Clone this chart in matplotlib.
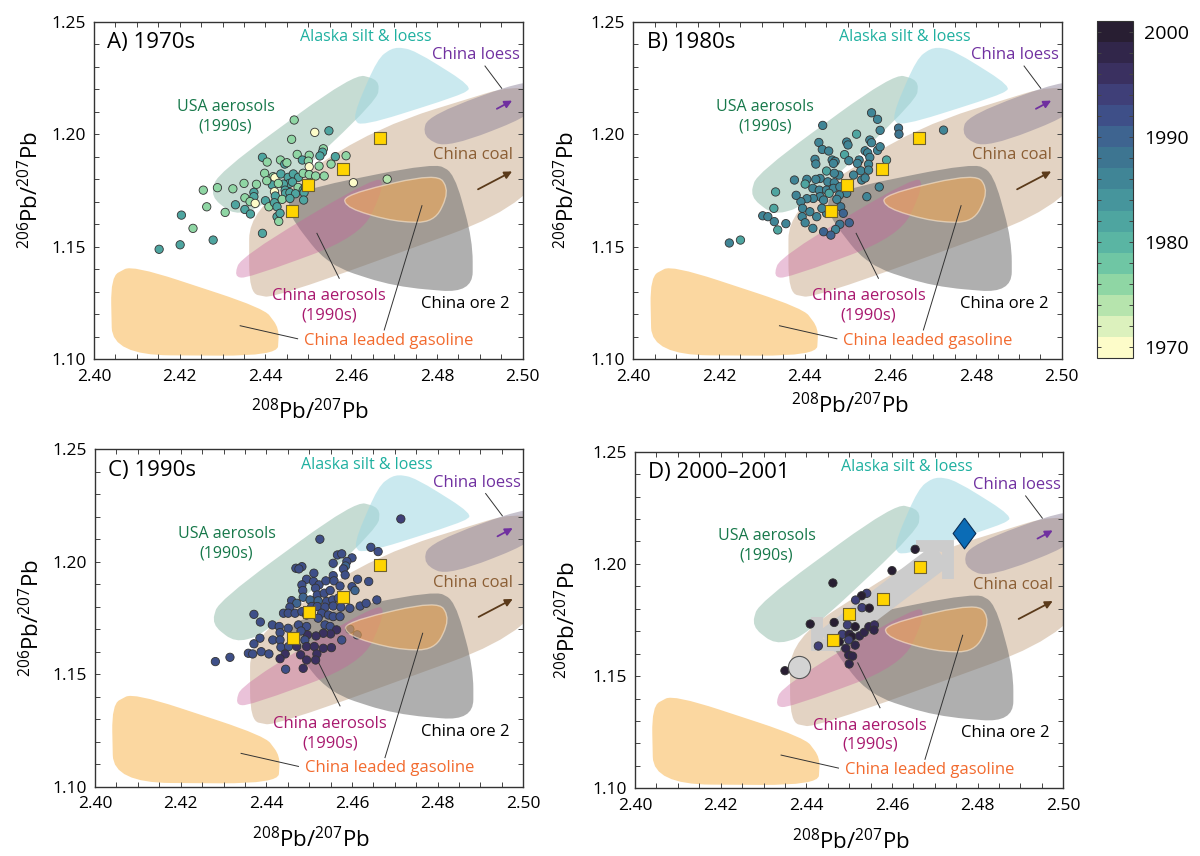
import numpy as np
import matplotlib
matplotlib.use("Agg")
import matplotlib.pyplot as plt
from matplotlib.path import Path
from matplotlib.patches import PathPatch
from matplotlib.colors import ListedColormap, BoundaryNorm
from matplotlib.ticker import MultipleLocator, FormatStrFormatter
import matplotlib.cm as cm

plt.rcParams['font.family'] = ['Open Sans', 'DejaVu Sans']
plt.rcParams['mathtext.fontset'] = 'custom'
plt.rcParams['mathtext.rm'] = 'Open Sans'
plt.rcParams['mathtext.default'] = 'regular'

# ---- aerosol samples: 208Pb/207Pb, 206Pb/207Pb, year ----
a_x = [2.4467, 2.4515, 2.4548, 2.4461, 2.4535, 2.4533, 2.4527, 2.4563, 2.4588, 2.4474,
       2.4502, 2.4393, 2.4404, 2.4435, 2.4445, 2.4450, 2.4486, 2.4500, 2.4502, 2.4525,
       2.4553, 2.4398, 2.4418, 2.4422, 2.4436, 2.4453, 2.4465, 2.4477, 2.4488, 2.4502,
       2.4517, 2.4537, 2.4456, 2.4463, 2.4476, 2.4442, 2.4416, 2.4430, 2.4403, 2.4379,
       2.4350, 2.4324, 2.4288, 2.4255, 2.4373, 2.4373, 2.4352, 2.4364, 2.4376, 2.4421,
       2.4423, 2.4446, 2.4447, 2.4457, 2.4470, 2.4488, 2.4490, 2.4493, 2.4400, 2.4408,
       2.4421, 2.4427, 2.4439, 2.4457, 2.4489, 2.4605, 2.4330, 2.4352, 2.4365, 2.4306,
       2.4263, 2.4204, 2.4231, 2.4278, 2.4201, 2.4152, 2.4393, 2.4427, 2.4431, 2.4434,
       2.4684]
a_y = [1.2063, 1.2008, 1.2015, 1.1977, 1.1935, 1.1920, 1.1903, 1.1900, 1.1904, 1.1910,
       1.1906, 1.1897, 1.1876, 1.1885, 1.1867, 1.1873, 1.1885, 1.1880, 1.1855, 1.1858,
       1.1867, 1.1826, 1.1811, 1.1806, 1.1823, 1.1808, 1.1823, 1.1808, 1.1826, 1.1820,
       1.1814, 1.1814, 1.1781, 1.1787, 1.1763, 1.1778, 1.1774, 1.1781, 1.1793, 1.1777,
       1.1781, 1.1757, 1.1762, 1.1751, 1.1741, 1.1722, 1.1717, 1.1700, 1.1692, 1.1744,
       1.1725, 1.1751, 1.1737, 1.1740, 1.1735, 1.1751, 1.1740, 1.1766, 1.1704, 1.1677,
       1.1695, 1.1677, 1.1710, 1.1714, 1.1707, 1.1784, 1.1686, 1.1665, 1.1645, 1.1652,
       1.1677, 1.1640, 1.1581, 1.1529, 1.1508, 1.1488, 1.1559, 1.1633, 1.1612, 1.1648,
       1.1800]
a_year = [1975, 1970, 1981, 1975, 1975, 1981, 1981, 1981, 1975, 1975,
          1975, 1981, 1975, 1975, 1981, 1975, 1981, 1975, 1970, 1975,
          1975, 1975, 1975, 1970, 1981, 1981, 1981, 1981, 1975, 1975,
          1975, 1975, 1981, 1981, 1975, 1981, 1981, 1975, 1975, 1975,
          1975, 1975, 1975, 1975, 1981, 1981, 1975, 1975, 1970, 1970,
          1981, 1981, 1981, 1981, 1981, 1981, 1981, 1981, 1981, 1975,
          1981, 1981, 1975, 1981, 1981, 1970, 1981, 1981, 1981, 1975,
          1975, 1981, 1975, 1981, 1981, 1981, 1981, 1981, 1975, 1981,
          1973]

b_x = [2.4556, 2.4570, 2.4442, 2.4576, 2.4619, 2.4620, 2.4521, 2.4552, 2.4556, 2.4498,
       2.4501, 2.4433, 2.4441, 2.4456, 2.4541, 2.4547, 2.4570, 2.4576, 2.4493, 2.4527,
       2.4523, 2.4503, 2.4464, 2.4471, 2.4424, 2.4426, 2.4467, 2.4552, 2.4549, 2.4591,
       2.4531, 2.4549, 2.4514, 2.4480, 2.4451, 2.4469, 2.4436, 2.4426, 2.4405, 2.4376,
       2.4401, 2.4419, 2.4434, 2.4454, 2.4469, 2.4451, 2.4467, 2.4482, 2.4498, 2.4481,
       2.4457, 2.4436, 2.4420, 2.4405, 2.4391, 2.4444, 2.4475, 2.4533, 2.4541, 2.4574,
       2.4545, 2.4380, 2.4332, 2.4328, 2.4395, 2.4412, 2.4428, 2.4394, 2.4401, 2.4419,
       2.4484, 2.4490, 2.4504, 2.4482, 2.4472, 2.4444, 2.4461, 2.4302, 2.4314, 2.4329,
       2.4356, 2.4337, 2.4224, 2.4250, 2.4451, 2.4440, 2.4724]
b_y = [1.2095, 1.2066, 1.2039, 1.2017, 1.2027, 1.2000, 1.2000, 1.1974, 1.1962, 1.1965,
       1.1952, 1.1963, 1.1932, 1.1925, 1.1926, 1.1917, 1.1928, 1.1944, 1.1909, 1.1885,
       1.1870, 1.1882, 1.1885, 1.1879, 1.1888, 1.1867, 1.1870, 1.1897, 1.1866, 1.1885,
       1.1837, 1.1840, 1.1818, 1.1818, 1.1836, 1.1826, 1.1803, 1.1799, 1.1799, 1.1796,
       1.1778, 1.1759, 1.1751, 1.1788, 1.1784, 1.1751, 1.1759, 1.1766, 1.1737, 1.1729,
       1.1737, 1.1722, 1.1714, 1.1713, 1.1700, 1.1707, 1.1710, 1.1796, 1.1805, 1.1765,
       1.1722, 1.1728, 1.1743, 1.1670, 1.1670, 1.1655, 1.1633, 1.1633, 1.1606, 1.1581,
       1.1677, 1.1648, 1.1606, 1.1599, 1.1576, 1.1566, 1.1551, 1.1637, 1.1633, 1.1611,
       1.1602, 1.1574, 1.1516, 1.1529, 1.1648, 1.1670, 1.2018]
b_year = [1985, 1985, 1985, 1985, 1987, 1987, 1982, 1985, 1985, 1985,
          1985, 1985, 1985, 1985, 1985, 1985, 1985, 1985, 1982, 1985,
          1985, 1985, 1985, 1985, 1985, 1985, 1985, 1985, 1985, 1982,
          1985, 1985, 1985, 1985, 1982, 1985, 1985, 1985, 1985, 1985,
          1982, 1985, 1985, 1985, 1985, 1985, 1985, 1985, 1985, 1985,
          1982, 1985, 1985, 1985, 1985, 1985, 1985, 1985, 1985, 1985,
          1985, 1985, 1982, 1982, 1985, 1985, 1985, 1985, 1985, 1985,
          1987, 1989, 1989, 1987, 1985, 1989, 1989, 1985, 1985, 1985,
          1985, 1982, 1985, 1982, 1985, 1985, 1985]

c_x = [2.4714, 2.4525, 2.4644, 2.4661, 2.4566, 2.4576, 2.4600, 2.4556, 2.4588, 2.4585,
       2.4580, 2.4469, 2.4483, 2.4476, 2.4511, 2.4494, 2.4510, 2.4523, 2.4539, 2.4556,
       2.4558, 2.4572, 2.4584, 2.4600, 2.4613, 2.4639, 2.4607, 2.4515, 2.4483, 2.4485,
       2.4486, 2.4502, 2.4519, 2.4535, 2.4549, 2.4521, 2.4541, 2.4555, 2.4568, 2.4506,
       2.4519, 2.4537, 2.4556, 2.4574, 2.4595, 2.4619, 2.4633, 2.4658, 2.4459, 2.4471,
       2.4455, 2.4440, 2.4451, 2.4467, 2.4483, 2.4494, 2.4529, 2.4545, 2.4556, 2.4572,
       2.4371, 2.4386, 2.4414, 2.4430, 2.4451, 2.4475, 2.4494, 2.4521, 2.4537, 2.4549,
       2.4564, 2.4550, 2.4533, 2.4516, 2.4496, 2.4481, 2.4490, 2.4432, 2.4415, 2.4432,
       2.4385, 2.4371, 2.4358, 2.4368, 2.4388, 2.4406, 2.4315, 2.4281, 2.4434, 2.4452,
       2.4471, 2.4494, 2.4512, 2.4533, 2.4552, 2.4576, 2.4444, 2.4432, 2.4480, 2.4518,
       2.4494, 2.4515, 2.4445, 2.4486, 2.4595, 2.4612]
c_y = [1.2190, 1.2100, 1.2064, 1.2045, 1.2030, 1.2035, 1.2017, 1.1993, 1.2001, 1.1981,
       1.1968, 1.1971, 1.1978, 1.1968, 1.1949, 1.1922, 1.1912, 1.1897, 1.1915, 1.1938,
       1.1915, 1.1892, 1.1941, 1.1889, 1.1922, 1.1912, 1.1872, 1.1882, 1.1897, 1.1872,
       1.1842, 1.1830, 1.1852, 1.1860, 1.1872, 1.1826, 1.1823, 1.1830, 1.1838, 1.1801,
       1.1801, 1.1798, 1.1803, 1.1798, 1.1793, 1.1803, 1.1815, 1.1830, 1.1827, 1.1815,
       1.1798, 1.1771, 1.1771, 1.1771, 1.1778, 1.1763, 1.1771, 1.1763, 1.1756, 1.1756,
       1.1766, 1.1732, 1.1719, 1.1712, 1.1704, 1.1719, 1.1712, 1.1749, 1.1719, 1.1712,
       1.1697, 1.1679, 1.1682, 1.1670, 1.1675, 1.1692, 1.1652, 1.1685, 1.1652, 1.1652,
       1.1660, 1.1635, 1.1593, 1.1590, 1.1600, 1.1590, 1.1575, 1.1556, 1.1620, 1.1623,
       1.1623, 1.1623, 1.1623, 1.1615, 1.1618, 1.1652, 1.1590, 1.1569, 1.1586, 1.1590,
       1.1563, 1.1563, 1.1522, 1.1526, 1.1700, 1.1675]
c_year = [1993, 1991, 1991, 1991, 1991, 1991, 1991, 1991, 1991, 1989,
          1991, 1991, 1991, 1991, 1991, 1991, 1991, 1991, 1991, 1991,
          1991, 1991, 1991, 1991, 1991, 1991, 1989, 1991, 1991, 1991,
          1989, 1989, 1991, 1991, 1991, 1989, 1991, 1991, 1991, 1991,
          1991, 1991, 1991, 1991, 1991, 1991, 1991, 1991, 1991, 1989,
          1991, 1991, 1991, 1991, 1991, 1991, 1991, 1991, 1991, 1991,
          1991, 1991, 1991, 1991, 1991, 1991, 1991, 1991, 1991, 1991,
          1995, 1995, 1995, 1995, 1995, 1991, 1991, 1991, 1991, 1991,
          1991, 1991, 1991, 1991, 1991, 1991, 1991, 1991, 1991, 1991,
          1995, 1995, 1995, 1995, 1995, 1991, 1995, 1995, 1995, 1995,
          1995, 1995, 1991, 1995, 1991, 1991]

d_x = [2.4654, 2.4600, 2.4462, 2.4541, 2.4529, 2.4515, 2.4530, 2.4547, 2.4409, 2.4465,
       2.4496, 2.4514, 2.4484, 2.4500, 2.4506, 2.4524, 2.4535, 2.4546, 2.4559, 2.4558,
       2.4477, 2.4499, 2.4514, 2.4492, 2.4499, 2.4508, 2.4500, 2.4428, 2.4350]
d_y = [1.2065, 1.1970, 1.1915, 1.1869, 1.1858, 1.1839, 1.1805, 1.1803, 1.1732, 1.1739,
       1.1728, 1.1720, 1.1686, 1.1687, 1.1676, 1.1679, 1.1695, 1.1720, 1.1728, 1.1705,
       1.1653, 1.1661, 1.1638, 1.1624, 1.1594, 1.1589, 1.1554, 1.1634, 1.1524]
d_year = [2000, 2000, 2000, 1994, 2000, 1994, 1994, 2000, 2000, 2000,
          1994, 2000, 1994, 1997, 2000, 1997, 1997, 1997, 1996, 1997,
          2000, 1994, 1997, 1997, 1997, 1997, 1997, 1994, 2000]

# ---- reference samples (yellow squares) ----
ref_x = [2.4666, 2.4580, 2.4499, 2.4462]
ref_y = [1.1985, 1.1843, 1.1775, 1.1660]

# ---- panel D end members and mixing trend ----
circle_x, circle_y = [2.4384], [1.1539]
diamond_x, diamond_y = [2.4767], [1.2136]
trend_shaft = [(2.4716, 1.2040), (2.4448, 1.1653)]
trend_head = [(2.4656, 1.2081), (2.4730, 1.2081), (2.4730, 1.1931)]
trend_tail = [(2.4426, 1.1765), (2.4426, 1.1637), (2.4479, 1.1637)]

# ---- source fields (outline corners) ----
gasoline_low = [(2.40895, 1.14180), (2.43969, 1.12253), (2.44319, 1.11364),
                (2.44280, 1.10134), (2.40428, 1.10178), (2.40389, 1.13661)]
gasoline_mid = [(2.45798, 1.17293), (2.48016, 1.18286), (2.48288, 1.17441),
                (2.47938, 1.16062), (2.47004, 1.16107), (2.45914, 1.16700)]
china_ore2 = [(2.44591, 1.17441), (2.47938, 1.18730), (2.48405, 1.18256), (2.48833, 1.15292),
              (2.48833, 1.12920), (2.47004, 1.13217), (2.45447, 1.14180), (2.44514, 1.16477)]
china_aero = [(2.43268, 1.13661), (2.43424, 1.14551), (2.46615, 1.18182),
              (2.46770, 1.17663), (2.46226, 1.15440), (2.43580, 1.13587)]
china_coal = [(2.4362, 1.1665), (2.4660, 1.2032), (2.5051, 1.2262),
              (2.5051, 1.1707), (2.4420, 1.1270), (2.4362, 1.1292)]
usa_aero = [(2.42724, 1.17219), (2.42879, 1.18256), (2.46070, 1.22703), (2.46654, 1.22406),
            (2.46615, 1.21517), (2.43969, 1.16774), (2.43268, 1.16403)]
alaska = [(2.47004, 1.23888), (2.47471, 1.23740), (2.48833, 1.22110), (2.48560, 1.21739),
          (2.46226, 1.20331), (2.46031, 1.20776), (2.46615, 1.23370)]
china_loess = [(2.47782, 1.20850), (2.50506, 1.22703), (2.50506, 1.21072),
               (2.48249, 1.19368), (2.47665, 1.19886)]

year_colors = ['#fdfcc9', '#dcf1bd', '#b6e4ad', '#8fd6a4', '#6fc6a4', '#5ab5a3', '#4ea5a0', '#46959c',
               '#408596', '#3d7591', '#3e6490', '#3e4f88', '#3f3f78', '#3a3060', '#31264a', '#281e32']
cmap = ListedColormap(year_colors)
norm = BoundaryNorm(np.arange(1969, 2002, 2), cmap.N)


def rounded_path(verts, t):
    v = np.asarray(verts, float)
    n = len(v)
    pts, codes = [], []
    for i in range(n):
        p, c, q = v[i - 1], v[i], v[(i + 1) % n]
        a = c + (p - c) * t
        b = c + (q - c) * t
        pts.append(a)
        codes.append(Path.MOVETO if i == 0 else Path.LINETO)
        pts += [c, b]
        codes += [Path.CURVE3, Path.CURVE3]
    pts.append(pts[0])
    codes.append(Path.CLOSEPOLY)
    return Path(pts, codes)


def draw_panel(ax, title, xs, ys, years, extras=False):
    ax.set_xlim(2.40, 2.50)
    ax.set_ylim(1.10, 1.25)

    fields = [
        (china_coal, 0.35, dict(facecolor='#c8a888', alpha=0.5, zorder=1.0)),
        (gasoline_low, 0.35, dict(facecolor='#fbd7a0', zorder=1.0)),
        (china_ore2, 0.4, dict(facecolor='#6e6e6e', alpha=0.55, zorder=1.1)),
        (china_aero, 0.45, dict(facecolor='#c8609c', alpha=0.38, zorder=1.2)),
        (usa_aero, 0.4, dict(facecolor='#72a892', alpha=0.4, zorder=1.3)),
        (alaska, 0.4, dict(facecolor='#9fd8e2', alpha=0.55, zorder=1.4)),
        (china_loess, 0.45, dict(facecolor='#8a8098', alpha=0.48, zorder=1.5)),
    ]
    for verts, t, kw in fields:
        ax.add_patch(PathPatch(rounded_path(verts, t), edgecolor='none', **kw))
    mid_path = rounded_path(gasoline_mid, 0.45)
    ax.add_patch(PathPatch(mid_path, facecolor='#f0aa58', alpha=0.6,
                           edgecolor='#fbe9d2', lw=1.0, zorder=1.7))

    # leader lines and arrows
    lc = dict(color='#333333', lw=0.7, zorder=2)
    ax.plot([2.4912, 2.4951], [1.2303, 1.2204], **lc)
    ax.plot([2.4572, 2.4520], [1.1359, 1.1559], **lc)
    ax.plot([2.4475, 2.4341], [1.1090, 1.1148], **lc)
    ax.plot([2.4677, 2.4765], [1.1129, 1.1682], **lc)
    ax.annotate('', xy=(2.4981, 1.2155), xytext=(2.4934, 1.2107),
                arrowprops=dict(arrowstyle='-|>', color='#7030a0', lw=1.3, mutation_scale=11), zorder=2)
    ax.annotate('', xy=(2.4981, 1.1840), xytext=(2.4890, 1.1749),
                arrowprops=dict(arrowstyle='-|>', color='#5b3a1a', lw=1.3, mutation_scale=11), zorder=2)

    fs = 12
    ax.text(2.4634, 1.2430, 'Alaska silt & loess', color='#1fb0a0', fontsize=11.5, ha='center', va='center')
    ax.text(2.4891, 1.2352, 'China loess', color='#7030a0', fontsize=fs, ha='center', va='center')
    ax.text(2.4883, 1.1907, 'China coal', color='#8b5e34', fontsize=fs, ha='center', va='center')
    ax.text(2.4307, 1.2079, 'USA aerosols\n(1990s)', color='#17784a', fontsize=11.5,
            ha='center', va='center', linespacing=1.3)
    ax.text(2.4549, 1.1236, 'China aerosols\n(1990s)', color='#a8186e', fontsize=fs,
            ha='center', va='center', linespacing=1.25)
    ax.text(2.4865, 1.1245, 'China ore 2', color='black', fontsize=fs, ha='center', va='center')
    ax.text(2.4687, 1.1082, 'China leaded gasoline', color='#f26a2e', fontsize=fs, ha='center', va='center')

    if extras:
        gc = '#cccccc'
        ax.plot(*zip(*trend_shaft), color=gc, lw=19, solid_capstyle='butt', zorder=2.5)
        ax.plot(*zip(*trend_head), color=gc, lw=8.5, solid_capstyle='butt',
                solid_joinstyle='miter', zorder=2.5)
        ax.plot(*zip(*trend_tail), color=gc, lw=8.5, solid_capstyle='butt',
                solid_joinstyle='miter', zorder=2.5)

    xs, ys, years = np.asarray(xs), np.asarray(ys), np.asarray(years)
    under = mid_path.contains_points(np.column_stack([xs, ys]))
    ax.scatter(xs[under], ys[under], c=years[under], cmap=cmap, norm=norm, s=36,
               edgecolors='#333333', linewidths=0.6, zorder=1.6)
    ax.scatter(xs[~under], ys[~under], c=years[~under], cmap=cmap, norm=norm, s=36,
               edgecolors='#333333', linewidths=0.6, zorder=4)
    ax.scatter(ref_x, ref_y, marker='s', s=75, color='#ffd400', edgecolors='#6d6030',
               linewidths=0.8, zorder=5)

    if extras:
        ax.scatter(circle_x, circle_y, s=255, color='#d3d3d3', edgecolors='#555555',
                   linewidths=0.8, zorder=5)
        diamond = [(0, 1), (0.74, 0), (0, -1), (-0.74, 0), (0, 1)]
        ax.scatter(diamond_x, diamond_y, marker=diamond, s=490, color='#0b6cb6',
                   edgecolors='#0a2e55', linewidths=0.8, zorder=5)

    ax.text(0.031, 0.938, title, transform=ax.transAxes, fontsize=16, ha='left', va='center')

    ax.xaxis.set_major_locator(MultipleLocator(0.02))
    ax.xaxis.set_minor_locator(MultipleLocator(0.005))
    ax.yaxis.set_major_locator(MultipleLocator(0.05))
    ax.yaxis.set_minor_locator(MultipleLocator(0.01))
    ax.xaxis.set_major_formatter(FormatStrFormatter('%.2f'))
    ax.yaxis.set_major_formatter(FormatStrFormatter('%.2f'))
    ax.tick_params(which='both', direction='in', top=True, right=True, length=3.5,
                   width=0.7, color='#444444', labelsize=12.5)
    ax.tick_params(axis='x', pad=7)
    ax.tick_params(axis='y', pad=6)
    for s in ax.spines.values():
        s.set_linewidth(1.0)
        s.set_color('#333333')


fig = plt.figure(figsize=(12, 8.56), dpi=100)
panels = [
    ([0.0783, 0.5806, 0.3573, 0.3940], 'A) 1970s', a_x, a_y, a_year, False, -0.147, -0.157),
    ([0.5278, 0.5806, 0.3570, 0.3940], 'B) 1980s', b_x, b_y, b_year, False, -0.157, -0.138),
    ([0.0792, 0.0810, 0.3569, 0.3942], 'C) 1990s', c_x, c_y, c_year, False, -0.147, -0.158),
    ([0.5292, 0.0791, 0.3569, 0.3932], 'D) 2000\u20132001', d_x, d_y, d_year, True, -0.157, -0.159),
]
for rect, title, xs, ys, years, extras, ylx, xly in panels:
    ax = fig.add_axes(rect)
    draw_panel(ax, title, xs, ys, years, extras)
    ax.text(ylx, 0.5, r'$^{206}$Pb/$^{207}$Pb', transform=ax.transAxes, rotation=90,
            fontsize=16, ha='center', va='center')
    ax.text(0.505, xly, r'$^{208}$Pb/$^{207}$Pb', transform=ax.transAxes,
            fontsize=16, ha='center', va='center')

cax = fig.add_axes([0.9139, 0.5818, 0.0303, 0.3937])
sm = cm.ScalarMappable(norm=norm, cmap=cmap)
cbar = fig.colorbar(sm, cax=cax, spacing='proportional')
cbar.set_ticks([1970, 1980, 1990, 2000])
cbar.set_ticks(list(range(1970, 2001, 2)), minor=True)
cbar.ax.tick_params(which='both', direction='in', left=True, right=True, length=3,
                    width=0.7, color='#444444', labelsize=14, pad=8)
cbar.outline.set_linewidth(0.8)
cbar.outline.set_edgecolor('#333333')

fig.savefig('out.png', dpi=100)
